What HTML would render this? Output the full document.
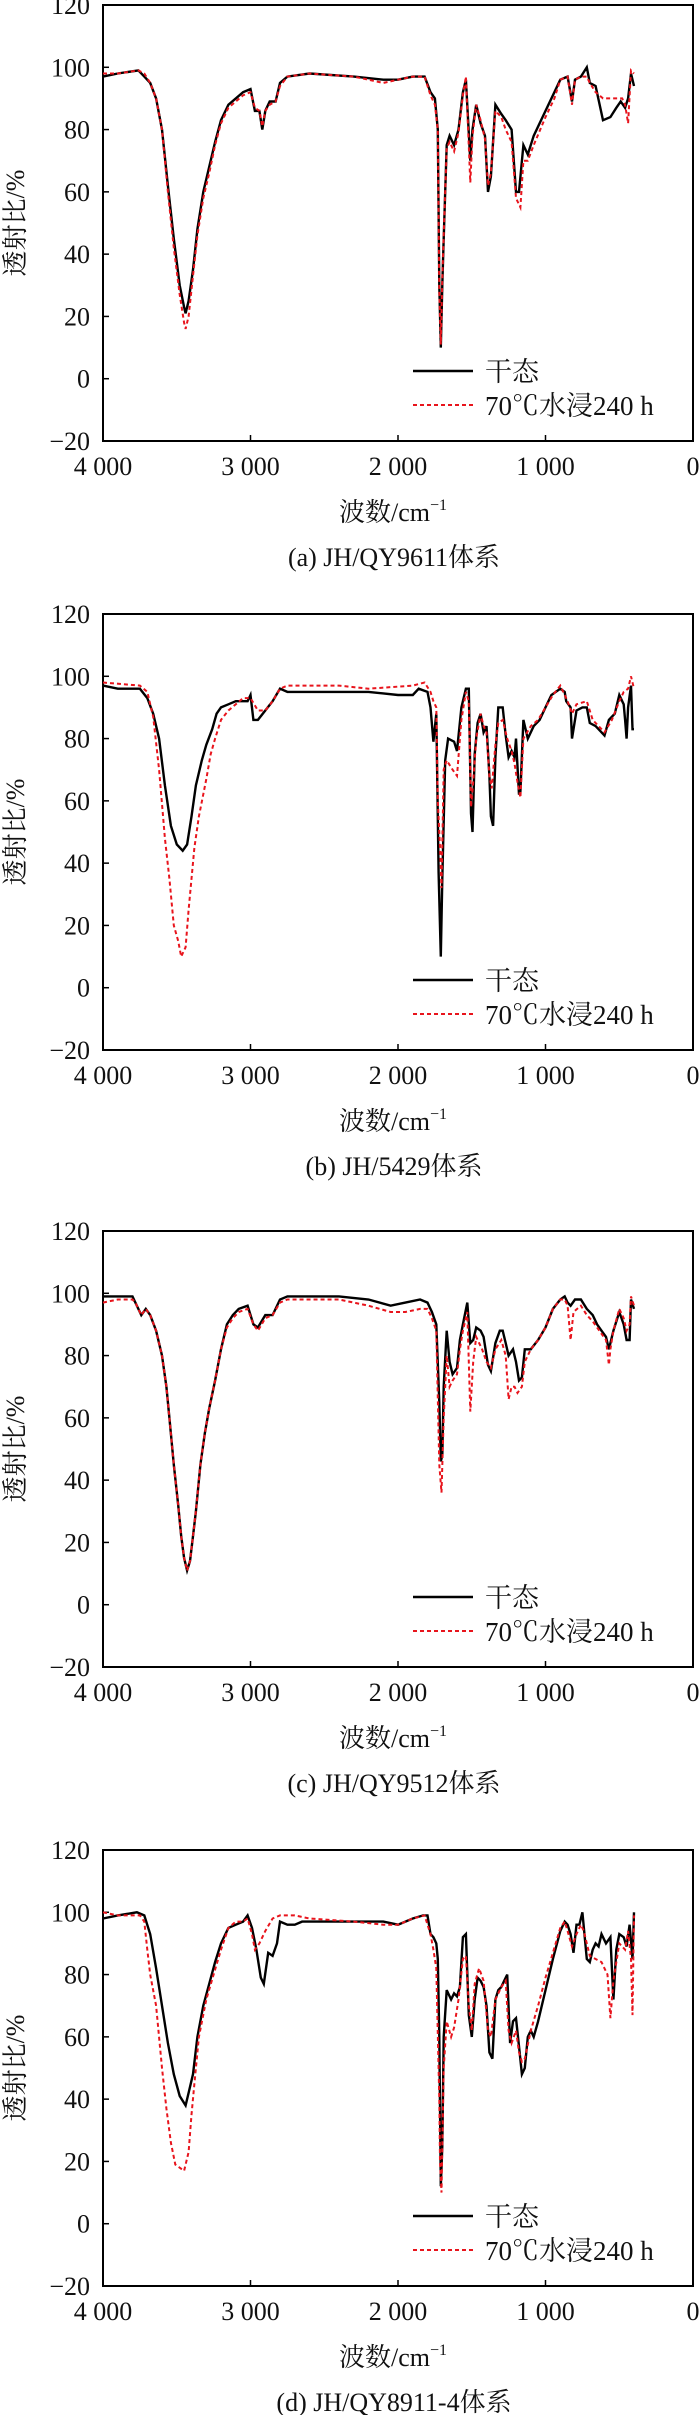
<!DOCTYPE html>
<html><head><meta charset="utf-8"><style>
html,body{margin:0;padding:0;background:#fff}
svg{display:block}
text{font-family:"Liberation Serif","Noto Serif CJK SC","Noto Sans CJK SC",serif;fill:#111}
</style></head><body>
<svg id="fig" width="700" height="2415" viewBox="0 0 700 2415" xmlns="http://www.w3.org/2000/svg"></svg>
<script>
const captions = ["(a) JH/QY9611体系","(b) JH/5429体系","(c) JH/QY9512体系","(d) JH/QY8911-4体系"];
const yTicks = [-20,0,20,40,60,80,100,120];
const xTicks = [4000,3000,2000,1000,0];
const xTickLabels = ["4 000","3 000","2 000","1 000","0"];
const legendLabels = ["干态","70℃水浸240 h"];

const dryA = [[4000,97],[3900,98],[3760,99],[3720,97],[3680,95],[3640,90],[3600,80],[3560,62],[3520,45],[3480,30],[3450,23],[3440,21],[3420,25],[3390,35],[3360,48],[3320,60],[3280,68],[3240,76],[3200,83],[3150,88],[3100,90],[3050,92],[3000,93],[2970,86],[2940,86],[2920,80],[2900,86],[2870,89],[2830,89],[2800,95],[2750,97],[2600,98],[2300,97],[2100,96],[2000,96],[1900,97],[1820,97],[1780,92],[1750,90],[1730,80],[1720,30],[1710,10],[1700,30],[1690,45],[1670,75],[1650,78],[1620,75],[1590,80],[1560,92],[1540,96],[1510,70],[1495,80],[1470,88],[1440,82],[1410,78],[1390,60],[1370,65],[1340,88],[1300,85],[1270,83],[1230,80],[1200,60],[1180,60],[1150,75],[1120,72],[1080,78],[1000,86],[940,92],[900,96],[850,97],[820,89],[800,96],[760,97],[720,100],[700,95],[660,94],[610,83],[560,84],[520,87],[490,89],[460,87],[440,90],[420,98],[400,94]];
const wetA = [[4000,98],[3900,98],[3760,99],[3720,98],[3680,95],[3640,90],[3600,80],[3560,60],[3520,42],[3480,27],[3450,18],[3440,16],[3420,20],[3390,33],[3360,46],[3320,58],[3280,66],[3240,75],[3200,82],[3150,87],[3100,89],[3050,91],[3000,92],[2970,87],[2940,86],[2920,81],[2900,86],[2870,88],[2830,89],[2800,94],[2750,97],[2600,98],[2300,97],[2100,95],[2000,96],[1900,97],[1820,97],[1780,91],[1750,88],[1730,80],[1720,28],[1710,11],[1700,32],[1690,46],[1670,74],[1650,76],[1620,73],[1590,79],[1560,91],[1540,97],[1510,63],[1495,78],[1470,88],[1440,83],[1410,77],[1390,62],[1370,66],[1340,86],[1300,84],[1270,80],[1230,76],[1200,58],[1170,55],[1150,70],[1120,70],[1080,75],[1000,84],[940,90],[900,96],[850,97],[820,88],[800,96],[760,97],[720,97],[700,95],[660,92],[610,90],[560,90],[520,90],[480,90],[460,88],[440,82],[420,99],[400,98]];

const dryB = [[4000,97],[3900,96],[3750,96],[3700,93],[3660,88],[3620,80],[3580,65],[3540,52],[3500,46],[3460,44],[3430,46],[3400,55],[3370,65],[3330,73],[3300,78],[3260,83],[3230,88],[3200,90],[3150,91],[3100,92],[3020,92],[3000,94],[2980,86],[2950,86],[2900,89],[2850,92],[2800,96],[2750,95],[2200,95],[2000,94],[1900,94],[1860,96],[1800,95],[1780,90],[1760,79],[1740,88],[1725,37],[1710,10],[1700,35],[1680,73],[1660,80],[1620,79],[1600,76],[1570,90],[1540,96],[1520,96],[1505,56],[1495,50],[1480,75],[1460,85],[1440,88],[1420,82],[1400,84],[1380,68],[1370,55],[1355,52],[1340,74],[1320,90],[1290,90],[1270,81],[1250,74],[1230,76],[1210,74],[1200,80],[1180,62],[1170,63],[1150,86],[1120,80],[1080,84],[1040,86],[1000,90],[960,94],[900,96],[870,95],[860,92],[830,90],[820,80],[790,89],[750,90],[720,90],[700,85],[660,84],[620,82],[600,81],[570,86],[530,88],[500,94],[470,91],[460,86],[450,80],[440,90],[420,97],[410,83],[400,83]];
const wetB = [[4000,98],[3750,97],[3700,95],[3660,87],[3620,70],[3580,48],[3550,35],[3520,20],[3490,15],[3470,10],[3440,13],[3420,25],[3380,45],[3350,55],[3300,67],[3270,75],[3240,80],[3200,86],[3150,89],[3050,93],[3000,93],[2950,89],[2900,89],[2850,92],[2800,96],[2750,97],[2400,97],[2200,96],[1900,97],[1820,98],[1780,95],[1760,92],[1740,90],[1730,60],[1715,45],[1705,32],[1690,70],[1670,73],[1630,70],[1600,68],[1570,86],[1540,95],[1520,92],[1505,58],[1490,66],[1470,80],[1440,88],[1420,84],[1400,82],[1380,68],[1365,64],[1340,78],[1320,85],[1290,86],[1260,80],[1230,76],[1210,72],[1190,66],[1170,61],[1150,80],[1100,84],[1050,86],[1000,90],[950,94],[900,97],[850,92],[820,88],[790,91],[720,92],[680,86],[600,82],[550,86],[500,92],[470,95],[440,96],[420,100],[400,96]];

const dryC = [[4000,99],[3900,99],[3800,99],[3780,97],[3740,93],[3710,95],[3680,93],[3640,88],[3600,80],[3570,70],[3550,60],[3520,45],[3490,32],[3470,22],[3450,15],[3430,11],[3410,14],[3390,22],[3370,30],[3340,45],[3310,55],[3280,63],[3240,72],[3200,82],[3160,90],[3120,93],[3080,95],[3020,96],[2980,90],[2950,89],[2900,93],[2850,93],[2800,98],[2750,99],[2400,99],[2200,98],[2050,96],[1950,97],[1850,98],[1800,97],[1770,94],[1740,90],[1720,65],[1710,46],[1700,48],[1690,70],[1670,88],[1650,78],[1630,74],[1600,76],[1580,85],[1560,90],[1530,97],[1510,84],[1490,85],[1470,89],[1440,88],[1420,86],[1390,77],[1370,75],[1340,84],[1310,88],[1290,88],[1270,84],[1250,80],[1220,82],[1200,78],[1180,72],[1160,73],[1140,82],[1100,82],[1050,85],[1000,89],[950,95],[900,98],[870,99],[850,97],[830,96],[800,98],[760,98],[720,95],[680,93],[650,90],[620,88],[590,86],[570,82],[540,88],[500,94],[470,90],[450,85],[430,85],[420,98],[400,95]];
const wetC = [[4000,97],[3900,98],[3800,98],[3780,97],[3740,93],[3710,95],[3680,93],[3640,88],[3600,80],[3570,70],[3550,60],[3520,45],[3490,32],[3470,22],[3450,15],[3430,11],[3410,14],[3390,22],[3370,30],[3340,45],[3310,55],[3280,63],[3240,72],[3200,82],[3160,89],[3120,92],[3080,94],[3020,95],[2980,90],[2950,88],[2900,92],[2850,93],[2800,97],[2750,98],[2400,98],[2200,96],[2050,94],[1950,94],[1850,95],[1800,95],[1770,92],[1740,88],[1720,45],[1705,36],[1690,60],[1670,80],[1650,70],[1630,72],[1600,74],[1580,82],[1560,88],[1530,94],[1510,62],[1490,78],[1470,86],[1430,82],[1400,78],[1370,76],[1340,82],[1300,85],[1270,80],[1250,66],[1230,70],[1210,70],[1190,68],[1160,70],[1140,78],[1100,82],[1050,85],[1000,89],[950,95],[900,98],[870,98],[850,96],[830,85],[810,94],[760,96],[720,93],[680,91],[650,89],[620,87],[590,85],[570,77],[560,82],[540,88],[500,95],[470,92],[450,88],[430,90],[420,99],[400,96]];

const dryD = [[4000,98],[3900,99],[3770,100],[3720,99],[3680,93],[3640,82],[3600,70],[3560,58],[3520,48],[3480,41],[3440,38],[3420,42],[3390,48],[3360,60],[3320,70],[3280,77],[3240,84],[3200,90],[3150,95],[3100,96],[3050,97],[3020,99],[2990,95],[2960,88],[2930,79],[2910,77],[2880,87],[2850,86],[2820,90],[2800,97],[2750,96],[2700,96],[2650,97],[2200,97],[2100,97],[2000,96],[1900,98],[1830,99],[1800,99],[1780,93],[1760,92],[1740,90],[1730,85],[1720,60],[1710,12],[1700,25],[1690,60],[1670,75],[1640,72],[1620,74],[1600,73],[1580,76],[1560,92],[1540,93],[1520,67],[1500,60],[1480,72],[1460,79],[1440,78],[1420,76],[1400,70],[1380,55],[1360,53],[1340,72],[1320,75],[1300,76],[1280,78],[1260,80],[1240,58],[1220,65],[1200,66],[1180,57],[1160,48],[1140,50],[1120,60],[1100,62],[1080,60],[1050,65],[1000,75],[950,85],[900,94],[870,97],[850,96],[830,93],[810,87],[790,96],[770,96],[750,100],[720,85],[700,84],[680,88],[660,90],[640,89],[620,93],[590,90],[560,92],[540,72],[520,88],[500,93],[470,92],[450,89],[430,96],[410,85],[400,100]];
const wetD = [[4000,100],[3900,99],[3750,99],[3720,97],[3700,88],[3680,80],[3640,70],[3600,50],[3570,37],[3540,26],[3510,19],[3480,18],[3450,17],[3420,23],[3400,35],[3380,45],[3350,60],[3300,72],[3250,80],[3200,88],[3150,95],[3100,97],[3050,97],[3020,98],[2990,93],[2970,88],[2940,90],[2900,94],[2850,98],[2800,99],[2700,99],[2600,98],[2300,97],[2100,96],[2000,96],[1900,98],[1820,99],[1780,93],[1760,88],[1740,82],[1720,40],[1715,20],[1705,10],[1690,50],[1670,65],[1640,60],[1620,63],[1590,72],[1560,85],[1540,86],[1520,70],[1500,62],[1480,77],[1450,82],[1420,78],[1390,62],[1370,60],[1340,72],[1300,76],[1270,78],[1250,62],[1230,58],[1200,62],[1180,55],[1160,52],[1140,53],[1100,62],[1050,70],[1000,79],[950,87],[900,95],[870,97],[850,94],[820,89],[790,93],[760,96],[740,94],[700,86],[660,85],[620,84],[580,80],[560,66],[540,78],[500,90],[460,88],[440,94],[420,85],[410,67],[400,99]];

const dryAll = [dryA, dryB, dryC, dryD];
const wetAll = [wetA, wetB, wetC, wetD];
const panelTops = [5, 614, 1231, 1850];

const NS = "http://www.w3.org/2000/svg";
const svg = document.getElementById("fig");
const L = 103, R = 693, H = 436;
function mk(tag, attrs, parent){ const e = document.createElementNS(NS, tag); for (const k in attrs) e.setAttribute(k, attrs[k]); (parent||svg).appendChild(e); return e; }

panelTops.forEach((top, p) => {
  const xS = w => L + (4000 - w) / 4000 * (R - L);
  const yS = v => top + (120 - v) / 140 * H;
  const bottom = top + H;
  const g = mk("g", {});
  
  

  const frame = mk("rect", {x:L, y:top, width:R-L, height:H, fill:"none", stroke:"#000", "stroke-width":2}, g);
  
  

  yTicks.forEach(v => {
    const t = mk("line", {x1:L, x2:L+6, y1:yS(v), y2:yS(v), stroke:"#000", "stroke-width":1.5}, g);
    
    
    const lb = mk("text", {x:L-13, y:yS(v)+9, "text-anchor":"end", "font-size":26}, g);
    lb.textContent = v < 0 ? "−" + Math.abs(v) : String(v);
    
    
  });
  xTicks.forEach((w, i) => {
    const t = mk("line", {x1:xS(w), x2:xS(w), y1:bottom, y2:bottom-6, stroke:"#000", "stroke-width":1.5}, g);
    
    
    const lb = mk("text", {x:xS(w), y:bottom+34, "text-anchor":"middle", "font-size":26}, g);
    lb.textContent = xTickLabels[i];
    
    
  });

  const yt = mk("text", {x:0, y:0, "text-anchor":"middle", "font-size":26, transform:"translate(24," + (top+H/2) + ") rotate(-90)"}, g);
  yt.textContent = "透射比/%";
  
  

  const xt = mk("text", {x:393, y:bottom+80, "text-anchor":"middle", "font-size":26}, g);
  xt.innerHTML = '波数/cm<tspan font-size="16" dy="-11">−1</tspan>';
  
  

  const cap = mk("text", {x:394, y:bottom+125, "text-anchor":"middle", "font-size":26}, g);
  cap.textContent = captions[p];
  
  

  const toPts = arr => arr.map(d => xS(d[0]).toFixed(1) + "," + yS(d[1]).toFixed(1)).join(" ");
  const dl = mk("polyline", {points: toPts(dryAll[p]), fill:"none", stroke:"#000", "stroke-width":2.4, "stroke-linejoin":"miter"}, g);
  
  
  const wl = mk("polyline", {points: toPts(wetAll[p]), fill:"none", stroke:"#e8141c", "stroke-width":2, "stroke-dasharray":"4,3"}, g);
  
  

  const ly1 = top + 366, ly2 = top + 400;
  const l1 = mk("line", {x1:413, x2:473, y1:ly1, y2:ly1, stroke:"#000", "stroke-width":2.6}, g);
  
  
  const t1 = mk("text", {x:485, y:ly1+10, "font-size":27}, g);
  t1.textContent = legendLabels[0];
  
  
  const l2 = mk("line", {x1:413, x2:473, y1:ly2, y2:ly2, stroke:"#e8141c", "stroke-width":2, "stroke-dasharray":"4,3"}, g);
  
  
  const t2 = mk("text", {x:485, y:ly2+10, "font-size":27}, g);
  t2.textContent = legendLabels[1];
  
  
});
</script>
</body></html>
